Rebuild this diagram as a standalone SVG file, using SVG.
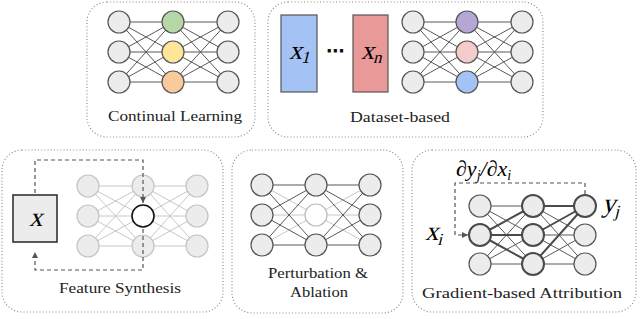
<svg xmlns="http://www.w3.org/2000/svg" width="640" height="319" viewBox="0 0 640 319">
<defs>
<style>
.panel{fill:#fff;stroke:#8a8a8a;stroke-width:1.2;stroke-dasharray:1 2.2}
.n{fill:#ececec;stroke:#555;stroke-width:1.2}
.nl{fill:#ececec;stroke:#c4c4c4;stroke-width:1.2}
.nt{fill:#ececec;stroke:#4a4a4a;stroke-width:2}
.e{fill:none;stroke:#585858;stroke-width:1}
.el{fill:none;stroke:#c8c8c8;stroke-width:1}
.et{fill:none;stroke:#4a4a4a;stroke-width:2}
.d{fill:none;stroke:#555;stroke-width:1.2;stroke-dasharray:4 3}
</style>
<marker id="ah" viewBox="0 0 6 6" refX="6" refY="3" markerWidth="6" markerHeight="6" markerUnits="userSpaceOnUse" orient="auto">
<path d="M0,0 L6,3 L0,6 Z" fill="#555"/>
</marker>
</defs>
<rect width="640" height="319" fill="#fff"/>

<g id="panels">
<rect id="p-continual" class="panel" x="87" y="2" width="168" height="135" rx="20"/>
<rect id="p-dataset" class="panel" x="268" y="2" width="275" height="135" rx="20"/>
<rect id="p-feature" class="panel" x="2" y="150" width="221" height="162" rx="20"/>
<rect id="p-perturb" class="panel" x="232" y="150" width="171" height="163" rx="20"/>
<rect id="p-gradient" class="panel" x="412" y="150" width="224" height="162" rx="20"/>
</g>

<g id="connectors">
<path class="e" d="M119 22L173 22M119 22L173 52M119 22L173 82M119 52L173 22M119 52L173 52M119 52L173 82M119 82L173 22M119 82L173 52M119 82L173 82M173 22L228 22M173 22L228 52M173 22L228 82M173 52L228 22M173 52L228 52M173 52L228 82M173 82L228 22M173 82L228 52M173 82L228 82"/>
<path class="e" d="M413 22L467 22M413 22L467 52M413 22L467 82M413 52L467 22M413 52L467 52M413 52L467 82M413 82L467 22M413 82L467 52M413 82L467 82M467 22L522 22M467 22L522 52M467 22L522 82M467 52L522 22M467 52L522 52M467 52L522 82M467 82L522 22M467 82L522 52M467 82L522 82"/>
<path class="el" d="M88 186L143 186M88 186L143 216M88 186L143 246M88 216L143 186M88 216L143 216M88 216L143 246M88 246L143 186M88 246L143 216M88 246L143 246M143 186L197 186M143 186L197 216M143 186L197 246M143 216L197 186M143 216L197 216M143 216L197 246M143 246L197 186M143 246L197 216M143 246L197 246"/>
<path class="el" d="M262 185L316 215M262 215L316 215M262 245L316 215M316 215L370 185M316 215L370 215M316 215L370 245"/>
<path class="e" d="M262 185L316 185M262 215L316 185M262 245L316 185M262 185L316 245M262 215L316 245M262 245L316 245M316 185L370 185M316 185L370 215M316 185L370 245M316 245L370 185M316 245L370 215M316 245L370 245"/>
<path class="e" d="M480 206L533 206M480 206L533 235M480 206L533 264M480 264L533 206M480 264L533 235M480 264L533 264M533 206L585 235M533 206L585 264M533 235L585 235M533 235L585 264M533 264L585 235M533 264L585 264"/>
<path class="et" d="M480 235L533 206M480 235L533 235M480 235L533 264M533 206L585 206M533 235L585 206M533 264L585 206"/>
</g>

<g id="continual-learning">
<circle class="n" cx="119" cy="22" r="11"/><circle class="n" cx="119" cy="52" r="11"/><circle class="n" cx="119" cy="82" r="11"/>
<circle class="n" cx="173" cy="22" r="11" style="fill:#b6d7a8"/><circle class="n" cx="173" cy="52" r="11" style="fill:#ffe599"/><circle class="n" cx="173" cy="82" r="11" style="fill:#f9cb9c"/>
<circle class="n" cx="228" cy="22" r="11"/><circle class="n" cx="228" cy="52" r="11"/><circle class="n" cx="228" cy="82" r="11"/>
<text x="175" y="121" font-family="Liberation Serif, serif" font-size="15" fill="#222" text-anchor="middle" textLength="134" lengthAdjust="spacingAndGlyphs">Continual Learning</text>
</g>

<g id="dataset-based">
<rect x="281" y="15" width="36" height="77" fill="#a4c2f4" stroke="#555" stroke-width="1.2"/>
<rect x="353" y="15" width="35" height="77" fill="#ea9999" stroke="#555" stroke-width="1.2"/>
<text transform="translate(289 59) skewX(-14)" font-family="Liberation Serif" font-size="26">x<tspan font-size="17" dy="4">1</tspan></text>
<text transform="translate(361 59) skewX(-14)" font-family="Liberation Serif" font-size="26">x<tspan font-size="17" dy="4">n</tspan></text>
<text x="335" y="57" text-anchor="middle" font-family="DejaVu Sans, sans-serif" font-size="18" font-weight="bold" fill="#111">⋯</text>
<circle class="n" cx="413" cy="22" r="11"/><circle class="n" cx="413" cy="52" r="11"/><circle class="n" cx="413" cy="82" r="11"/>
<circle class="n" cx="467" cy="22" r="11" style="fill:#b4a7d6"/><circle class="n" cx="467" cy="52" r="11" style="fill:#f4cccc"/><circle class="n" cx="467" cy="82" r="11" style="fill:#a4c2f4"/>
<circle class="n" cx="522" cy="22" r="11"/><circle class="n" cx="522" cy="52" r="11"/><circle class="n" cx="522" cy="82" r="11"/>
<text x="400" y="122" font-family="Liberation Serif, serif" font-size="15" fill="#222" text-anchor="middle" textLength="100" lengthAdjust="spacingAndGlyphs">Dataset-based</text>
</g>

<g id="feature-synthesis">
<rect x="13" y="195" width="44" height="47" fill="#ececec" stroke="#333" stroke-width="1.6"/>
<text transform="translate(29 226) skewX(-14)" font-family="Liberation Serif" font-size="27">x</text>
<circle class="nl" cx="88" cy="186" r="11"/><circle class="nl" cx="88" cy="216" r="11"/><circle class="nl" cx="88" cy="246" r="11"/>
<circle class="nl" cx="143" cy="186" r="11"/><circle cx="143" cy="216" r="11" fill="#fff" stroke="#111" stroke-width="1.6"/><circle class="nl" cx="143" cy="246" r="11"/>
<circle class="nl" cx="197" cy="186" r="11"/><circle class="nl" cx="197" cy="216" r="11"/><circle class="nl" cx="197" cy="246" r="11"/>
<path class="d" d="M35 193V160H143V203" marker-end="url(#ah)"/>
<path class="d" d="M143 229V270H35V252" marker-end="url(#ah)"/>
<text x="120" y="293" font-family="Liberation Serif, serif" font-size="15" fill="#222" text-anchor="middle" textLength="122" lengthAdjust="spacingAndGlyphs">Feature Synthesis</text>
</g>

<g id="perturbation-ablation">
<circle class="n" cx="262" cy="185" r="11"/><circle class="n" cx="262" cy="215" r="11"/><circle class="n" cx="262" cy="245" r="11"/>
<circle class="n" cx="316" cy="185" r="11"/><circle cx="316" cy="215" r="11" fill="#fff" stroke="#bdbdbd" stroke-width="1.2"/><circle class="n" cx="316" cy="245" r="11"/>
<circle class="n" cx="370" cy="185" r="11"/><circle class="n" cx="370" cy="215" r="11"/><circle class="n" cx="370" cy="245" r="11"/>
<text x="318" y="278" font-family="Liberation Serif, serif" font-size="15" fill="#222" text-anchor="middle" textLength="100" lengthAdjust="spacingAndGlyphs">Perturbation &amp;</text>
<text x="319" y="297" font-family="Liberation Serif, serif" font-size="15" fill="#222" text-anchor="middle" textLength="58" lengthAdjust="spacingAndGlyphs">Ablation</text>
</g>

<g id="gradient-attribution">
<circle class="n" cx="480" cy="206" r="11"/><circle class="nt" cx="480" cy="235" r="11"/><circle class="n" cx="480" cy="264" r="11"/>
<circle class="nt" cx="533" cy="206" r="11"/><circle class="nt" cx="533" cy="235" r="11"/><circle class="nt" cx="533" cy="264" r="11"/>
<circle class="nt" cx="585" cy="206" r="11"/><circle class="n" cx="585" cy="235" r="11"/><circle class="n" cx="585" cy="264" r="11"/>
<path class="d" d="M585 194V183H455V235H468" marker-end="url(#ah)"/>
<text x="456" y="176" font-family="Liberation Serif" font-size="22" font-style="italic">∂y<tspan font-size="14" dy="4">j</tspan><tspan dy="-4">/∂x</tspan><tspan font-size="14" dy="4">i</tspan></text>
<text transform="translate(425 240) skewX(-14)" font-family="Liberation Serif" font-size="27">x<tspan font-size="17" dy="5">i</tspan></text>
<text transform="translate(602 212) skewX(-14)" font-family="Liberation Serif" font-size="27">y<tspan font-size="17" dy="5">j</tspan></text>
<text x="522" y="298" font-family="Liberation Serif, serif" font-size="15" fill="#222" text-anchor="middle" textLength="200" lengthAdjust="spacingAndGlyphs">Gradient-based Attribution</text>
</g>
</svg>
